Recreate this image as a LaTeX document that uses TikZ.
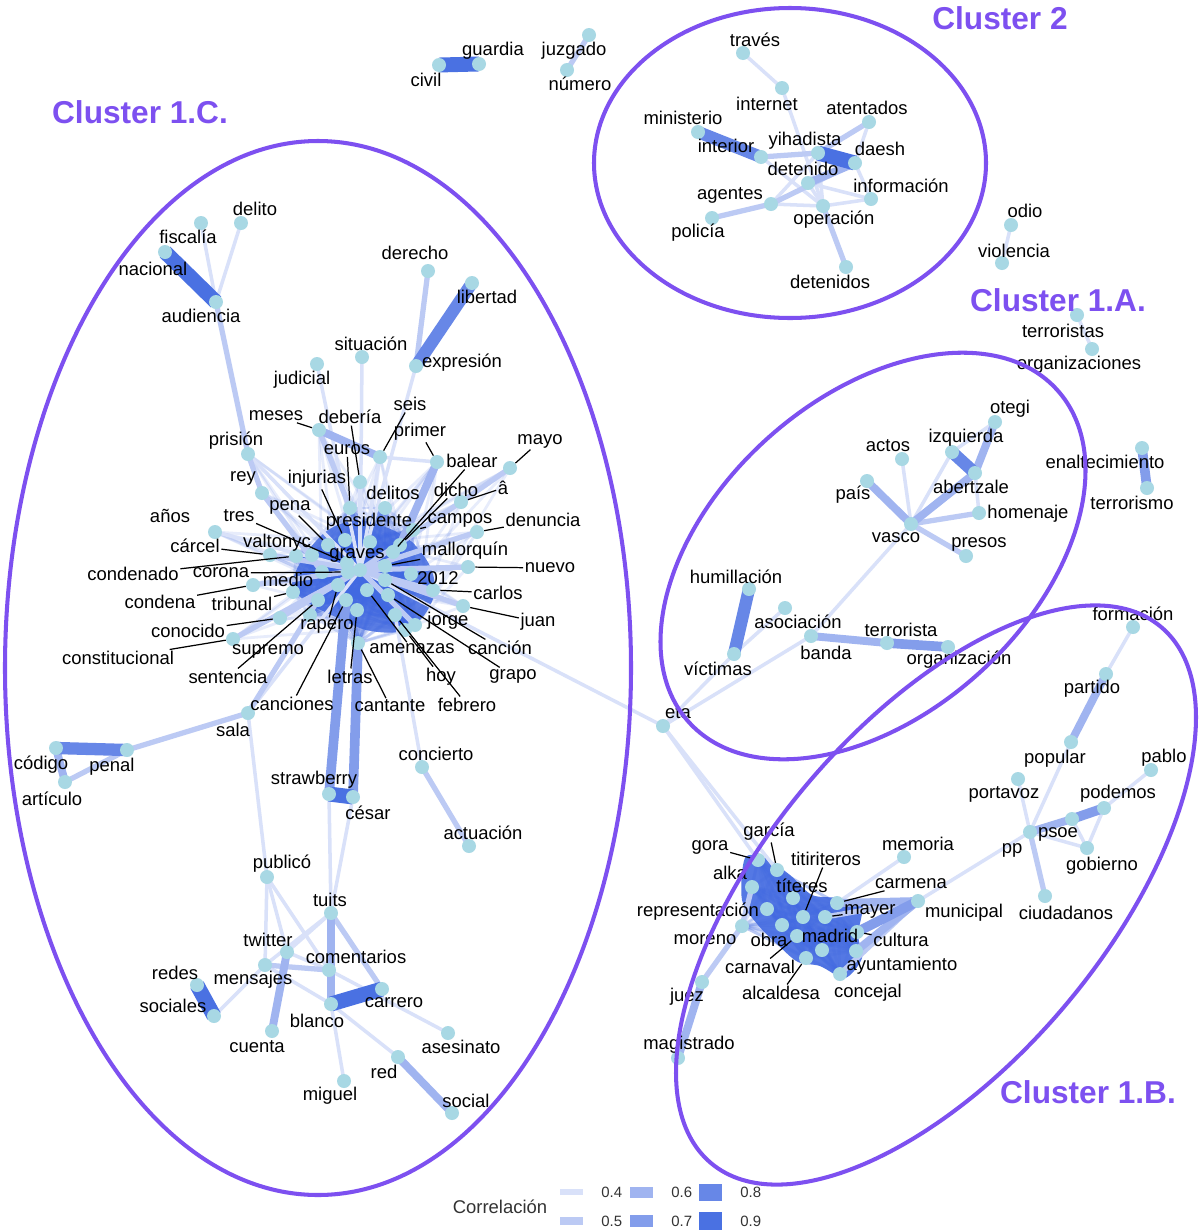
\documentclass[tikz,border=0pt]{standalone}
\usepackage{fontspec}
\setmainfont{Liberation Sans}
\usetikzlibrary{positioning,calc}
\definecolor{royal}{RGB}{65,105,225}
\definecolor{clusterPurple}{RGB}{125,80,240}
\definecolor{dotBlue}{RGB}{168,216,228}
\colorlet{c4}{royal!20}
\colorlet{c5}{royal!35}
\colorlet{c6}{royal!50}
\colorlet{c7}{royal!65}
\colorlet{c8}{royal!80}
\colorlet{c9}{royal!95}
\pgfdeclarelayer{paper}
\pgfdeclarelayer{edges}
\pgfdeclarelayer{leaders}
\pgfdeclarelayer{labels}
\pgfdeclarelayer{rings}
\pgfsetlayers{paper,edges,main,leaders,labels,rings}
\tikzset{
  wordDot/.style={
    circle,
    fill=dotBlue,
    inner sep=0pt,
    minimum size=0.28cm
  },
  wordLabel/.style={
    inner sep=0.8pt,
    text=black,
    font=\fontsize{10.5}{12}\selectfont
  },
  leader/.style={draw=black, line width=0.7pt},
  e4/.style={draw=c4, line width=2pt},
  e5/.style={draw=c5, line width=3pt},
  e6/.style={draw=c6, line width=4.5pt},
  e7/.style={draw=c7, line width=5.5pt},
  e8/.style={draw=c8, line width=7pt},
  e9/.style={draw=c9, line width=8.5pt},
  hubEdge/.style={draw=royal, line width=1.6pt, opacity=0.2},
  spokeEdge/.style={draw=royal, line width=1.6pt, opacity=0.12},
  clusterRing/.style={draw=clusterPurple, line width=2.3pt},
  clusterTitle/.style={
    text=clusterPurple,
    font=\fontsize{18}{20}\selectfont\bfseries
  },
  swatch/.style={rectangle, inner sep=0pt, minimum width=0.46cm},
  legendText/.style={text=black!80, font=\fontsize{8.5}{10}\selectfont}
}

\def\hubC{euros,delitos,injurias,presidente,dicho,balear,campos,pena,tres,graves,corona,mallorquin,n2012,carlos,jorge,cancion,grapo,amenazas,febrero,hoy,letras,canciones,cantante,rapero,medio,tribunal,valtonyc,condenado,sentencia,supremo}
\def\hubB{gora,garcia,alka,titeres,representacion,moreno,obra,titiriteros,mayer,carmena,carnaval,madrid,alcaldesa,cultura,ayuntamiento,concejal}
\def\rimC{rey,anos,carcel,condena,conocido,constitucional,meses,deberia,seis,primer,acirc,denuncia,nuevo,juan,prision,mayo}

\begin{document}
\begin{tikzpicture}[x=0.02cm,y=-0.02cm]
  \useasboundingbox (0,0) rectangle (1203,1231);
  \begin{pgfonlayer}{paper}
    \fill[white] (0,0) rectangle (1203,1231);
  \end{pgfonlayer}

  % words: name / dot / label / text
  \foreach \n/\dx/\dy/\lx/\ly/\t in {
    civil/439/65/426/80/civil, guardia/479/64/493/51/guardia,
    juzgado/589/35/574/51/juzgado, numero/567/70/580/84/número,
    traves/743/53/755/40/través, internet/782/88/767/104/internet,
    ministerio/698/132/683/118/ministerio, interior/761/157/726/146/interior,
    yihadista/818/153/805/141/yihadista, atentados/869/122/867/108/atentados,
    daesh/855/163/880/149/daesh, detenido/808/183/803/169/detenido,
    agentes/771/204/730/195/agentes, policia/712/218/698/233/policía,
    operacion/823/206/834/220/operación, informacion/871/199/901/186/información,
    detenidos/846/267/830/282/detenidos,
    odio/1011/225/1025/211/odio, violencia/1002/263/1014/251/violencia,
    terroristas/1077/315/1063/331/terroristas, organizaciones/1092/349/1079/365/organizaciones,
    enaltecimiento/1142/448/1105/462/enaltecimiento, terrorismo/1147/488/1132/503/terrorismo,
    otegi/995/422/1010/409/otegi, izquierda/952/452/966/438/izquierda,
    abertzale/975/473/971/487/abertzale, actos/902/459/888/446/actos,
    pais/867/481/853/495/país, homenaje/979/513/1028/514/homenaje,
    vasco/911/524/896/538/vasco, presos/966/556/979/544/presos,
    humillacion/749/589/736/577/humillación, asociacion/785/608/798/622/asociación,
    victimas/734/654/718/669/víctimas, banda/811/636/826/653/banda,
    terrorista/887/643/901/630/terrorista, organizacion/948/647/959/660/organización,
    eta/663/726/678/713/eta,
    formacion/1133/627/1133/614/formación, partido/1106/674/1092/689/partido,
    popular/1071/742/1055/759/popular, pablo/1151/770/1164/758/pablo,
    portavoz/1018/779/1004/794/portavoz, podemos/1104/808/1118/794/podemos,
    psoe/1072/819/1058/834/psoe, pp/1030/832/1012/850/pp,
    gobierno/1087/848/1102/866/gobierno, ciudadanos/1045/896/1066/913/ciudadanos,
    gora/758/860/710/847/gora, garcia/777/870/769/832/garcía,
    alka/752/887/730/873/alka, titeres/793/898/802/886/títeres,
    titiriteros/803/917/826/859/titiriteros, representacion/767/909/698/912/representación,
    moreno/742/926/705/940/moreno, obra/782/925/769/940/obra,
    madrid/822/950/830/936/madrid, mayer/825/917/870/911/mayer,
    carmena/837/903/911/884/carmena, cultura/857/932/901/940/cultura,
    municipal/918/901/964/913/municipal, ayuntamiento/856/951/902/966/ayuntamiento,
    concejal/840/974/868/993/concejal, carnaval/797/936/760/967/carnaval,
    alcaldesa/806/958/781/993/alcaldesa, memoria/904/857/918/844/memoria,
    juez/702/982/687/997/juez, magistrado/678/1058/689/1045/magistrado,
    fiscalia/201/223/188/237/fiscalía, nacional/165/252/153/269/nacional,
    delito/241/223/255/209/delito, audiencia/216/302/201/316/audiencia,
    derecho/428/271/415/253/derecho, libertad/472/283/487/297/libertad,
    expresion/416/366/462/363/expresión, situacion/362/357/371/344/situación,
    judicial/317/364/302/380/judicial, meses/319/430/276/416/meses,
    deberia/360/482/350/417/debería, seis/380/457/410/404/seis,
    primer/437/462/420/432/primer, euros/350/508/347/450/euros,
    prision/248/454/236/441/prisión, balear/393/552/472/461/balear,
    mayo/510/468/540/441/mayo, rey/262/493/243/478/rey,
    injurias/345/540/317/479/injurias, delitos/385/508/393/493/delitos,
    dicho/400/545/456/490/dicho, acirc/461/502/503/488/â,
    anos/215/532/170/516/años, tres/347/563/239/516/tres,
    pena/328/545/290/507/pena, presidente/370/542/369/522/presidente,
    campos/413/530/460/520/campos, denuncia/477/532/543/520/denuncia,
    valtonyc/312/555/277/543/valtonyc, carcel/270/555/195/546/cárcel,
    graves/360/570/357/555/graves, mallorquin/385/566/465/551/mallorquín,
    nuevo/468/567/550/568/nuevo, condenado/296/556/133/574/condenado,
    corona/348/572/221/573/corona, medio/322/572/288/580/medio,
    n2012/411/574/438/578/2012, condena/253/585/160/602/condena,
    tribunal/293/592/242/604/tribunal, carlos/433/590/498/593/carlos,
    conocido/280/618/188/631/conocido, rapero/338/585/327/626/rapero,
    supremo/310/615/268/651/supremo, jorge/415/625/448/621/jorge,
    juan/463/606/538/622/juan, cancion/385/580/500/648/canción,
    constitucional/233/639/118/658/constitucional, amenazas/367/590/412/649/amenazas,
    letras/357/610/350/677/letras, grapo/388/595/513/676/grapo,
    sentencia/318/600/228/677/sentencia, hoy/405/630/441/677/hoy,
    canciones/346/600/292/704/canciones, cantante/358/643/390/706/cantante,
    febrero/395/615/467/705/febrero, sala/248/713/233/730/sala,
    codigo/56/748/41/765/código, penal/127/750/112/767/penal,
    articulo/65/782/52/799/artículo, concierto/422/767/436/754/concierto,
    strawberry/329/794/314/780/strawberry, cesar/353/797/368/813/césar,
    actuacion/469/846/483/833/actuación, publico/267/877/282/864/publicó,
    tuits/331/913/330/900/tuits, twitter/287/952/268/940/twitter,
    comentarios/329/970/356/957/comentarios, mensajes/265/965/253/980/mensajes,
    redes/197/985/175/973/redes, sociales/214/1016/173/1006/sociales,
    carrero/382/989/394/1003/carrero, blanco/331/1004/317/1021/blanco,
    cuenta/272/1031/257/1047/cuenta, asesinato/448/1033/461/1047/asesinato,
    red/398/1057/384/1072/red, miguel/344/1081/330/1096/miguel,
    social/452/1113/466/1101/social%
  }{
    \node[wordDot] (\n) at (\dx,\dy) {};
    \begin{pgfonlayer}{labels}
      \node[wordLabel] (\n-t) at (\lx,\ly) {\t};
    \end{pgfonlayer}
  }

  \begin{pgfonlayer}{edges}
    % dense cores
    \fill[royal!85] plot[smooth cycle] coordinates {(328,530) (358,520) (388,528) (412,542) (430,566) (435,592) (422,618) (397,632) (366,630) (338,618) (310,604) (292,586) (304,556)};
    \fill[royal!90] plot[smooth cycle] coordinates {(745,858) (765,858) (790,875) (812,895) (840,898) (862,905) (858,935) (862,958) (845,978) (820,966) (798,962) (778,945) (758,925) (742,900)};
    \foreach \a [count=\i] in \hubC {
      \foreach \b [count=\j] in \hubC {
        \ifnum\j>\i \draw[hubEdge] (\a.center) -- (\b.center); \fi
      }
    }
    \foreach \a in \rimC {
      \foreach \b in {graves,presidente,medio,jorge,rapero,n2012}
        \draw[spokeEdge] (\a.center) -- (\b.center);
    }
    \foreach \a [count=\i] in \hubB {
      \foreach \b [count=\j] in \hubB {
        \ifnum\j>\i \draw[hubEdge] (\a.center) -- (\b.center); \fi
      }
    }
    \foreach \a/\b in {traves/internet, internet/operacion, interior/operacion, atentados/daesh,
      daesh/informacion, operacion/informacion, operacion/yihadista, agentes/operacion,
      agentes/yihadista, detenido/operacion, detenido/informacion, odio/violencia,
      terroristas/organizaciones, otegi/izquierda, izquierda/vasco, abertzale/homenaje,
      vasco/actos, vasco/banda, victimas/asociacion, eta/victimas, eta/banda, eta/gora,
      eta/garcia, eta/graves, formacion/partido, popular/pp, portavoz/pp, podemos/pablo,
      psoe/gobierno, podemos/gobierno, pp/gobierno, pp/municipal, memoria/carmena,
      audiencia/fiscalia, audiencia/delito, judicial/graves, situacion/graves,
      expresion/graves, seis/graves, seis/primer, deberia/graves, anos/graves,
      prision/graves, sala/graves, sala/publico, concierto/febrero, strawberry/tuits,
      cesar/tuits, publico/mensajes, publico/comentarios, publico/twitter, tuits/twitter,
      tuits/mensajes, mensajes/sociales, mensajes/blanco, comentarios/blanco,
      comentarios/asesinato, blanco/miguel, blanco/red, twitter/comentarios}
      \draw[e4] (\a.center) -- (\b.center);
    \foreach \a/\b in {juzgado/numero, interior/yihadista, yihadista/atentados, daesh/agentes,
      agentes/policia, operacion/detenidos, vasco/homenaje, vasco/presos, pp/ciudadanos,
      moreno/juez, alka/moreno, municipal/concejal, municipal/mayer, audiencia/prision,
      derecho/expresion, meses/euros, mayo/acirc, acirc/graves, denuncia/graves,
      nuevo/graves, juan/graves, carlos/graves, jorge/graves, carcel/graves,
      condena/graves, conocido/graves, constitucional/graves, rey/medio, prision/rey,
      sala/sentencia, penal/sala, articulo/penal, concierto/actuacion, tuits/carrero,
      mensajes/comentarios}
      \draw[e5] (\a.center) -- (\b.center);
    \foreach \a/\b in {daesh/detenido, otegi/abertzale, abertzale/vasco, vasco/pais,
      banda/terrorista, partido/popular, pp/psoe, juez/magistrado, municipal/carmena,
      municipal/ayuntamiento, meses/seis, primer/dicho, codigo/articulo, twitter/cuenta,
      tuits/blanco, red/social}
      \draw[e6] (\a.center) -- (\b.center);
    \foreach \a/\b in {enaltecimiento/terrorismo, terrorista/organizacion, psoe/podemos,
      municipal/cultura, strawberry/canciones, cesar/cantante}
      \draw[e7] (\a.center) -- (\b.center);
    \foreach \a/\b in {ministerio/interior, izquierda/abertzale, humillacion/victimas,
      libertad/expresion, codigo/penal}
      \draw[e8] (\a.center) -- (\b.center);
    \foreach \a/\b in {civil/guardia, yihadista/daesh, audiencia/nacional,
      strawberry/cesar, redes/sociales, blanco/carrero}
      \draw[e9] (\a.center) -- (\b.center);
  \end{pgfonlayer}

  \begin{pgfonlayer}{leaders}
    \foreach \n in {meses, deberia, seis, primer, euros, balear, mayo, injurias, dicho,
      acirc, tres, pena, campos, denuncia, carcel, mallorquin, nuevo, condenado, corona,
      condena, tribunal, carlos, conocido, rapero, juan, cancion, constitucional,
      amenazas, letras, grapo, sentencia, hoy, canciones, cantante, febrero,
      gora, garcia, titiriteros, mayer, carmena, cultura, carnaval, alcaldesa}
      \draw[leader] (\n-t) -- (\n);
  \end{pgfonlayer}

  \begin{pgfonlayer}{rings}
    \draw[clusterRing] (318,668) circle[x radius=313, y radius=527];
    \draw[clusterRing] (790,163) circle[x radius=196, y radius=155];
    \draw[clusterRing] (873,556) circle[x radius=248, y radius=158, rotate=42];
    \draw[clusterRing] (936,895) circle[x radius=350, y radius=170, rotate=50];
    \node[clusterTitle] (title1C) at (140,112) {Cluster 1.C.};
    \node[clusterTitle] (title2) at (1000,18) {Cluster 2};
    \node[clusterTitle] (title1A) at (1058,300) {Cluster 1.A.};
    \node[clusterTitle] (title1B) at (1088,1092) {Cluster 1.B.};
  \end{pgfonlayer}

  % legend
  \node[wordLabel, text=black!80] (legendTitle) at (500,1207) {Correlación};
  \node[swatch, fill=c4, minimum height=6*0.02cm] (sw4) at (571,1192) {};
  \node[swatch, fill=c5, minimum height=8*0.02cm] (sw5) at (571,1221) {};
  \node[swatch, fill=c6, minimum height=11*0.02cm] (sw6) at (641,1192) {};
  \node[swatch, fill=c7, minimum height=12*0.02cm] (sw7) at (641,1221) {};
  \node[swatch, fill=c8, minimum height=17*0.02cm] (sw8) at (710,1192) {};
  \node[swatch, fill=c9, minimum height=18*0.02cm] (sw9) at (710,1221) {};
  \node[legendText, right=7pt of sw4] (lg4) {0.4};
  \node[legendText, right=7pt of sw5] (lg5) {0.5};
  \node[legendText, right=7pt of sw6] (lg6) {0.6};
  \node[legendText, right=7pt of sw7] (lg7) {0.7};
  \node[legendText, right=7pt of sw8] (lg8) {0.8};
  \node[legendText, right=7pt of sw9] (lg9) {0.9};
\end{tikzpicture}
\end{document}
